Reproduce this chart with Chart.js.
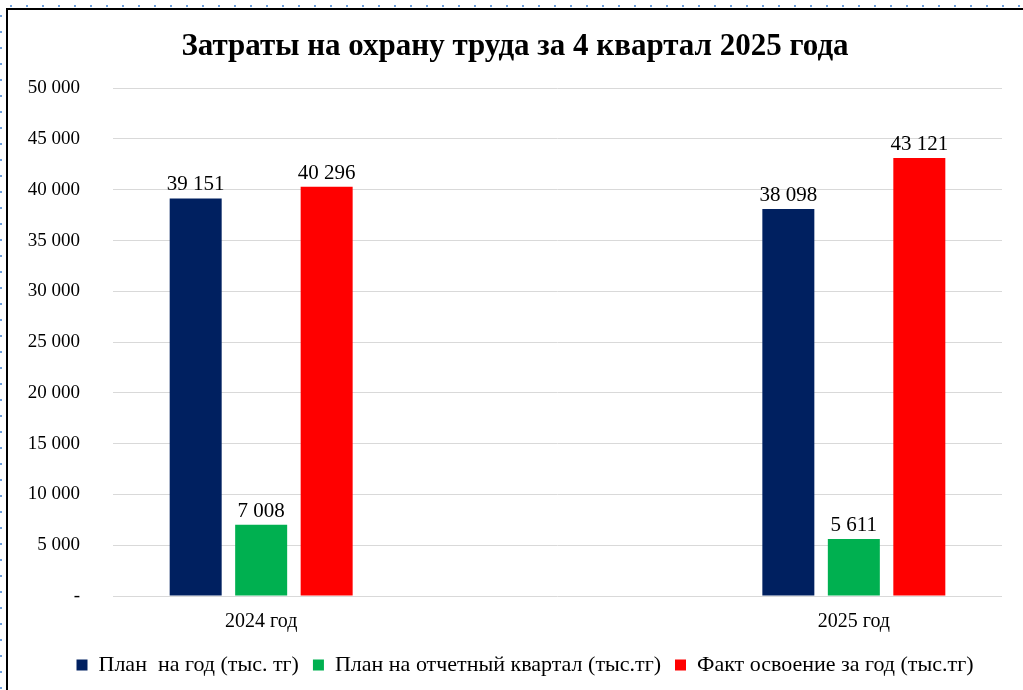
<!DOCTYPE html>
<html>
<head>
<meta charset="utf-8">
<script src="https://cdn.jsdelivr.net/npm/chart.js@4/dist/chart.umd.min.js"></script>
<style>
  html, body { margin: 0; padding: 0; background: #fff; width: 1023px; height: 690px; overflow: hidden; }
  .dots-h { position: absolute; left: 0; top: 5px; width: 1023px; height: 2px;
    background: repeating-linear-gradient(to right, transparent 0 10px, #6fa0dc 10px 12px, transparent 12px 16px); }
  .dots-v { position: absolute; left: 0; top: 5px; width: 2px; height: 685px;
    background: repeating-linear-gradient(to bottom, transparent 0 10px, #6fa0dc 10px 12px, transparent 12px 16px); }
  .frame { position: absolute; left: 6px; top: 8px; width: 1017px; height: 682px;
    border-left: 2px solid #000; border-top: 2px solid #000; box-sizing: border-box; }
  #wrap { position: absolute; left: 8px; top: 10px; width: 1015px; height: 680px; }
</style>
</head>
<body>
<div class="dots-h"></div>
<div class="dots-v"></div>
<div class="frame"></div>
<div id="wrap"><canvas id="c" width="1015" height="680"></canvas></div>
<script>
const categories = ["2024 год", "", "2025 год"];
const seriesNames = ["План  на год (тыс. тг)", "План на отчетный квартал (тыс.тг)", "Факт освоение за год (тыс.тг)"];
const planYear = [39151, null, 38098];
const planQuarter = [7008, null, 5611];
const factYear = [40296, null, 43121];
const seriesColors = ["#002060", "#00B050", "#FF0000"];
const yMin = 0, yMax = 50000, yStep = 5000;
const titleText = "Затраты на охрану труда за 4 квартал 2025 года";

const fmt = v => v === 0 ? "-" : String(v).replace(/\B(?=(\d{3})+(?!\d))/g, " ");

const valueLabels = {
  id: 'valueLabels',
  afterDatasetsDraw(chart) {
    const ctx = chart.ctx;
    ctx.save();
    ctx.font = '21px "Liberation Serif"';
    ctx.fillStyle = '#000';
    ctx.textAlign = 'center';
    ctx.textBaseline = 'alphabetic';
    chart.data.datasets.forEach((ds, i) => {
      const meta = chart.getDatasetMeta(i);
      meta.data.forEach((bar, j) => {
        const v = ds.data[j];
        if (v === null || v === undefined) return;
        ctx.fillText(fmt(v), bar.x, bar.y - 8);
      });
    });
    ctx.restore();
  }
};

const legendShift = {
  id: 'legendShift',
  afterLayout(chart) {
    if (chart.legend) { chart.legend.left += 10; chart.legend.right += 10; }
  }
};

const serif = '"Liberation Serif", "Times New Roman", serif';

new Chart(document.getElementById('c'), {
  type: 'bar',
  data: {
    labels: categories,
    datasets: [
      { label: seriesNames[0], data: planYear, backgroundColor: seriesColors[0] },
      { label: seriesNames[1], data: planQuarter, backgroundColor: seriesColors[1] },
      { label: seriesNames[2], data: factYear, backgroundColor: seriesColors[2] }
    ]
  },
  options: {
    responsive: false,
    animation: false,
    devicePixelRatio: 1,
    layout: { padding: { left: 20, right: 21, top: 0, bottom: 4 } },
    datasets: { bar: { categoryPercentage: 0.663, barPercentage: 0.794 } },
    scales: {
      x: {
        grid: { display: false },
        border: { display: false },
        ticks: { color: '#000', font: { family: serif, size: 20 }, padding: 6 }
      },
      y: {
        min: yMin, max: yMax,
        afterFit(scale) { scale.width = 85; },
        grid: { color: '#d9d9d9', lineWidth: 1, drawTicks: false },
        border: { display: false },
        ticks: { stepSize: yStep, color: '#000', font: { family: serif, size: 19 }, padding: 33, callback: v => fmt(v) }
      }
    },
    plugins: {
      title: {
        display: true, text: titleText, color: '#000',
        font: { family: serif, size: 31, weight: 'bold' },
        padding: { top: 18, bottom: 23 }
      },
      legend: {
        position: 'bottom',
        labels: { color: '#000', font: { family: serif, size: 22 }, boxWidth: 11, boxHeight: 11, padding: 14 }
      },
      tooltip: { enabled: false }
    }
  },
  plugins: [valueLabels, legendShift]
});
</script>
</body>
</html>
